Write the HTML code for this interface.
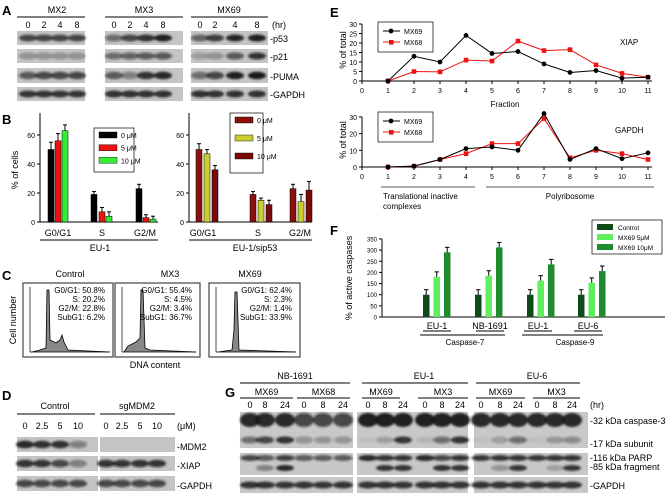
<!DOCTYPE html>
<html><head><meta charset="utf-8"><style>
body{margin:0;background:#fff}
svg{display:block;font-family:"Liberation Sans",sans-serif}
</style></head><body>
<svg id="s" width="671" height="498" viewBox="0 0 671 498" xmlns="http://www.w3.org/2000/svg"></svg>
<script>
const S=document.getElementById('s');let h='<defs><filter id="bl" x="-20%" y="-50%" width="140%" height="200%"><feGaussianBlur stdDeviation="1.1"/></filter></defs>';
function T(x,y,t,sz=9,a='start',extra=''){h+=`<text x="${x}" y="${y}" font-size="${sz}" text-anchor="${a}" ${extra}>${t}</text>`;}
function L(x1,y1,x2,y2,c='#000',w=1){h+=`<line x1="${x1}" y1="${y1}" x2="${x2}" y2="${y2}" stroke="${c}" stroke-width="${w}"/>`;}
function R(x,y,w,hh,f,st=''){h+=`<rect x="${x}" y="${y}" width="${w}" height="${hh}" fill="${f}" ${st}/>`;}
function blot(x,y,w,hh,bands,bg='#c4c4c4'){R(x,y,w,hh,bg);h+='<g filter="url(#bl)">';bands.forEach(b=>{h+=`<ellipse cx="${b[0]}" cy="${b[1]}" rx="${b[2]/2}" ry="${b[3]/2}" fill="rgba(20,20,20,${b[4]})"/>`;});h+='</g>';}
function row(x,y,w,hh,xs,ds,bw=14,bh=null,cyo=0.5){blot(x,y,w,hh,xs.map((cx,i)=>[cx,y+hh*cyo,bw,bh||hh*0.5,ds[i]]));}
const B='font-weight="bold"';
T(2,15,'A',13,'start',B);
[[17,85,'MX2',57],[105,183,'MX3',144],[191,268,'MX69',229]].forEach(g=>{L(g[0],17,g[1],17);T(g[3],13,g[2],9,'middle');});
const ax=[[28,44,60,77],[114,130,146,163],[200,215,235,257]];
ax.forEach(a=>a.forEach((x,i)=>T(x,28,[0,2,4,8][i],9,'middle')));T(272,28,'(hr)',9);
const gx=[[17,85],[105,183],[191,268]];
const rowsA=[[31,14,[[.7,.7,.7,.7],[.5,.7,.85,.95],[.55,.75,.9,.95]]],[49,14,[[.3,.25,.25,.3],[.5,.55,.6,.6],[.2,.25,.6,.8]]],[68,15,[[.6,.7,.7,.7],[.6,.4,.8,.9],[.5,.7,.95,.98]]],[87,14,[[.8,.8,.8,.8],[.85,.85,.85,.85],[.85,.85,.85,.85]]]];
rowsA.forEach(r=>gx.forEach((g,k)=>row(g[0],r[0],g[1]-g[0],r[1],ax[k],r[2][k],18)));
T(270,42,'-p53',9);T(270,60,'-p21',9);T(270,80,'-PUMA',9);T(270,98,'-GAPDH',9);
T(2,124,'B',13,'start',B);
function barchart(x0,x1,groups,cols,vals,errs,labels,xl,title,tx){
 L(x0,113,x0,222);L(x0,222,x1,222);
 [0,20,40,60].forEach(v=>{let y=222-v*1.45;L(x0-3,y,x0,y);T(x0-5,y+3,v,7,'end');});
 groups.forEach((gxs,gi)=>gxs.forEach((bx,bi)=>{let v=vals[gi][bi],y=222-v*1.45;R(bx,y,6,222-y,cols[bi],'stroke="#000" stroke-width="0.5"');let e=errs[gi][bi];L(bx+3,y,bx+3,y-e*1.45);L(bx+1,y-e*1.45,bx+5,y-e*1.45);}));
 labels.forEach((l,i)=>T(xl[i],236,l,9,'middle'));L(x0,240,x1,240);T(tx,251,title,9,'middle');
}
barchart(40,158,[[48,55,62],[91,99,106],[136,143,150]],['#000','#e11','#3e3'],[[50,56,63],[19,7,4],[23,3,2]],[[5,5,4],[2,3,3],[3,2,2]],['G0/G1','S','G2/M'],[58,102,145],'EU-1',100);
barchart(189,312,[[196,204,212],[250,258,266],[290,298,306]],['#8b1010','#cccc33','#7a0a0a'],[[50,47,36],[19,15,12],[23,14,22]],[[4,3,3],[2,1.5,3],[3,5,6]],['G0/G1','S','G2/M'],[203,258,300],'EU-1/sip53',255);
T(18,170,'% of cells',9,'middle','transform="rotate(-90 18 170)"');
function leg(x,y,w,hh,items,sz=7){R(x,y,w,hh,'#fff','stroke="#000" stroke-width="0.7"');items.forEach((it,i)=>{R(x+5,y+4+i*(hh-6)/items.length,18,6,it[0],'stroke="#000" stroke-width="0.4"');T(x+27,y+10+i*(hh-6)/items.length,it[1],sz);});}
leg(94,128,40,44,[['#000','0 μM'],['#e11','5 μM'],['#3e3','10 μM']]);
leg(230,113,33,60,[['#8b1010','0 μM'],['#cccc33','5 μM'],['#7a0a0a','10 μM']]);
T(2,280,'C',13,'start',B);
T(70,277,'Control',9,'middle');T(170,277,'MX3',9,'middle');T(250,277,'MX69',9,'middle');
const cb=[[23,113,'G0/G1: 50.8%','S: 20.2%','G2/M: 22.8%','SubG1: 6.2%'],[115,200,'G0/G1: 55.4%','S: 4.5%','G2/M: 3.4%','SubG1: 36.7%'],[209,300,'G0/G1: 62.4%','S: 2.3%','G2/M: 1.4%','SubG1: 33.9%']];
const paths=['M32,352 L40,350 L46,348 L47,290 L49,290 L50,340 L56,343 L60,340 L62,335 L64,342 L68,350 L110,352','M124,352 L128,346 L136,342 L140,338 L141,290 L143,290 L145,348 L150,350 L196,352','M218,352 L232,350 L234,330 L235,292 L237,292 L239,350 L296,352'];
cb.forEach((b,i)=>{R(b[0],283,b[1]-b[0],74,'#fff','stroke="#444" stroke-width="1.2"');h+=`<path d="${paths[i]}" fill="#888" stroke="#000" stroke-width="0.8"/>`;L(b[0]+7,287,b[0]+7,352,'#000',0.7);L(b[0]+7,352,b[1]-4,352,'#000',0.7);[b[2],b[3],b[4],b[5]].forEach((t,j)=>T(b[1]-8,293+j*9,t,8,'end'));});
T(16,320,'Cell number',9,'middle','transform="rotate(-90 16 320)"');T(155,368,'DNA content',9,'middle');
T(2,400,'D',13,'start',B);
T(55,409,'Control',9,'middle');L(17,414,95,414);T(137,409,'sgMDM2',9,'middle');L(100,414,175,414);
const dx=[[25,42,60,78],[106,122,140,157]];
dx.forEach(a=>a.forEach((x,i)=>T(x,429,[0,2.5,5,10][i],9,'middle')));T(177,429,'(μM)',9);
row(17,437,81,15,dx[0],[.9,.85,.85,.4],18);blot(100,437,75,15,[]);
row(17,456,81,15,dx[0],[.85,.8,.7,.4],18);row(100,456,75,15,dx[1],[.8,.8,.8,.8],18);
row(17,476,81,15,dx[0],[.7,.7,.7,.7],18);row(100,476,75,15,dx[1],[.7,.7,.7,.7],18);
T(177,450,'-MDM2',9);T(177,469,'-XIAP',9);T(177,489,'-GAPDH',9);
T(225,397,'G',13,'start',B);
[[240,350,'NB-1691',295],[362,468,'EU-1',424],[476,580,'EU-6',537]].forEach(g=>{L(g[0],383,g[1],383);T(g[3],379,g[2],9,'middle');});
const gs=[[240,293,'MX69',[250,265,285]],[297,350,'MX68',[304,323,343]],[362,400,'MX69',[368,385,403]],[418,468,'MX3',[425,442,460]],[476,525,'MX69',[481,500,518]],[533,580,'MX3',[537,555,572]]];
gs.forEach(g=>{L(g[0],398,g[1],398);T((g[0]+g[1])/2,395,g[2],9,'middle');g[3].forEach((x,i)=>T(x,408,[0,8,24][i],9,'middle'));});
T(590,408,'(hr)',9);
const gb=[[240,353],[357,468],[474,588]];
const cs=[[.9,.9,.9,.7,.7,.7],[.95,.95,.95,.95,.95,.95],[.9,.9,.9,.9,.9,.9]];
const sub=[[.5,.7,.85,.3,.3,.3],[.05,.2,.8,.1,.5,.85],[.05,.2,.5,.05,.25,.35]];
const parp=[[.7,.6,.75,.6,.6,.6],[.9,.8,.8,.9,.7,.8],[.8,.8,.8,.8,.8,.8]];
const frag=[[0,.4,.9,0,0,0],[0,.85,.85,0,.85,.85],[0,.3,.8,0,.2,.8]];
gb.forEach((g,k)=>{const xs=gs[2*k][3].concat(gs[2*k+1][3]);
 blot(g[0],412,g[1]-g[0],36,xs.map((x,i)=>[x,420,20,14,cs[k][i]]).concat(xs.map((x,i)=>[x,440,18,7,sub[k][i]])),'#c8c8c8');
 blot(g[0],453,g[1]-g[0],22,xs.map((x,i)=>[x,458,19,6,parp[k][i]]).concat(xs.map((x,i)=>[x,468,18,6,frag[k][i]])),'#c8c8c8');
 blot(g[0],477,g[1]-g[0],16,xs.map(x=>[x,485,20,7,.8]),'#c8c8c8');});
T(590,424,'-32 kDa caspase-3',9);T(590,447,'-17 kDa subunit',9);T(590,461,'-116 kDa PARP',9);T(590,470,'-85 kDa fragment',9);T(590,489,'-GAPDH',9);
T(330,17,'E',13,'start',B);
function line(y0,sc,ticks,a,b,xl,name,ny,legy){
 L(362,y0-ticks[ticks.length-1]*sc,362,y0);L(362,y0,652,y0);
 ticks.forEach(v=>{let y=y0-v*sc;L(359,y,362,y);T(357,y+3,v,7,'end');});
 for(let i=0;i<12;i++){let x=362+26*i;L(x,y0,x,y0+3);T(x,y0+12,i,7,'middle');}
 [[b,'#e11'],[a,'#000']].forEach(s=>{let p=s[0].map((v,i)=>`${388+26*i},${y0-v*sc}`).join(' ');h+=`<polyline points="${p}" fill="none" stroke="${s[1]}" stroke-width="1"/>`;s[0].forEach((v,i)=>{if(s[1]=='#000')h+=`<circle cx="${388+26*i}" cy="${y0-v*sc}" r="2.4" fill="#000"/>`;else R(388+26*i-2.3,y0-v*sc-2.3,4.6,4.6,'#e11');});});
 T(xl,ny,name,8);
 R(378,legy,55,30,'#fff','stroke="#000" stroke-width="0.7"');L(383,legy+9,400,legy+9);h+=`<circle cx="391" cy="${legy+9}" r="2.4"/>`;T(404,legy+12,'MX69',7);L(383,legy+20,400,legy+20,'#e11');R(389,legy+18,4.6,4.6,'#e11');T(404,legy+23,'MX68',7);
}
line(81,1.9,[0,5,10,15,20,25,30],[0,13,10,24,14.5,15.5,9,4.5,5.5,1.5,2],[0,5,4.8,11,10.5,21,16,16.5,8.5,4,2],620,'XIAP',45,22);
T(505,107,'Fraction',8,'middle');
line(167,1.67,[0,10,20,30],[0,.5,4.5,11,12,10,32,4.5,11,5,8.5],[0,.5,4.5,8,14,14,29,5.5,10,8,4.5],615,'GAPDH',133,112);
T(346,50,'% of total',9,'middle','transform="rotate(-90 346 50)"');T(346,140,'% of total',9,'middle','transform="rotate(-90 346 140)"');
L(381,187,475,187,'#555');L(486,187,654,187,'#555');T(383,199,'Translational  inactive',8);T(383,209,'complexes',8);T(570,199,'Polyribosome',8,'middle');
T(330,235,'F',13,'start',B);
L(382,239,382,317);L(382,317,665,317);
for(let v=0;v<=350;v+=50){let y=317-v*0.223;L(379,y,382,y);T(377,y+2.5,v,6,'end');}
const fc=['#0f4a1a','#5eee5e','#1f8a2e'];const fv=[[100,180,290],[100,185,312],[100,163,236],[100,153,206]];const fx=[423,475,527,578];
fv.forEach((g,i)=>g.forEach((v,j)=>{let x=fx[i]+j*10.5,y=317-v*.223;R(x,y,6.5,317-y,fc[j]);L(x+3.2,y,x+3.2,y-5);L(x+1,y-5,x+5.5,y-5);}));
[['EU-1',437],['NB-1691',490],['EU-1',538],['EU-6',588]].forEach(t=>{T(t[1],329,t[0],9,'middle');L(t[1]-14,331,t[1]+14,331);});
L(420,335,505,335);L(522,335,603,335);T(465,345,'Caspase-7',8,'middle');T(575,345,'Caspase-9',8,'middle');
T(352,278,'% of active caspases',9,'middle','transform="rotate(-90 352 278)"');
R(592,220,70,34,'#fff','stroke="#000" stroke-width="0.7"');
[['Control',0],['MX69 5μM',1],['MX69 10μM',2]].forEach((t,i)=>{R(597,224+i*10,16,6,fc[i]);T(618,230+i*10,t[0],6.5);});
S.innerHTML=h;
</script>
</body></html>
